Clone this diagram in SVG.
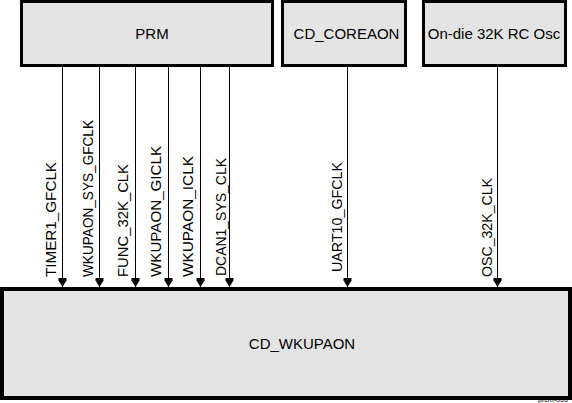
<svg xmlns="http://www.w3.org/2000/svg" width="572" height="403" viewBox="0 0 572 403">
<defs>
<style>
.box{fill:#e4e4e4;stroke:#000;stroke-width:3}
.big{stroke-width:4}
.t{font-family:"Liberation Sans",Arial,sans-serif;font-size:15px;fill:#000}
.lbl{font-family:"Liberation Sans",Arial,sans-serif;font-size:15px;fill:#000}
.ln{stroke:#000;stroke-width:1;fill:none;marker-end:url(#ah)}
.tag{font-family:"Liberation Sans",Arial,sans-serif;font-size:8px;fill:#000}
</style>
<marker id="ah" markerUnits="userSpaceOnUse" markerWidth="10" markerHeight="10" viewBox="0 0 10 10" refX="9" refY="5" orient="auto">
<path d="M0,1 L2.5,1 L9,5 L2.5,9 L0,9 Z" fill="#000"/>
</marker>
</defs>
<rect width="572" height="403" fill="#fff"/>
<g id="prm">
<rect class="box" x="21.5" y="1.5" width="251" height="64"/>
<text class="t" x="152" y="38.5" text-anchor="middle">PRM</text>
</g>
<g id="cd_coreaon">
<rect class="box" x="282.5" y="1.5" width="123" height="64"/>
<text class="t" x="346.5" y="38.5" text-anchor="middle">CD_COREAON</text>
</g>
<g id="osc">
<rect class="box" x="423.5" y="1.5" width="142" height="64"/>
<text class="t" x="494" y="38.5" text-anchor="middle">On-die 32K RC Osc</text>
</g>
<g id="cd_wkupaon">
<rect class="box big" x="2" y="289" width="568" height="109"/>
<line x1="0" y1="287.5" x2="292" y2="287.5" stroke="#000" stroke-width="1"/>
<text class="t" x="302" y="348.5" text-anchor="middle">CD_WKUPAON</text>
</g>
<g id="connectors">
<line class="ln" x1="62.5" y1="66" x2="62.5" y2="287"/>
<line class="ln" x1="99.5" y1="66" x2="99.5" y2="287"/>
<line class="ln" x1="135.5" y1="66" x2="135.5" y2="287"/>
<line class="ln" x1="168.5" y1="66" x2="168.5" y2="287"/>
<line class="ln" x1="200.5" y1="66" x2="200.5" y2="287"/>
<line class="ln" x1="229.5" y1="66" x2="229.5" y2="287"/>
<line class="ln" x1="347.5" y1="66" x2="347.5" y2="287"/>
<line class="ln" x1="497.5" y1="66" x2="497.5" y2="287"/>
<text class="lbl" transform="translate(55.5 277) rotate(-90)" textLength="115" lengthAdjust="spacingAndGlyphs">TIMER1_GFCLK</text>
<text class="lbl" transform="translate(93 277) rotate(-90)" textLength="157" lengthAdjust="spacingAndGlyphs">WKUPAON_SYS_GFCLK</text>
<text class="lbl" transform="translate(127.5 277) rotate(-90)" textLength="113" lengthAdjust="spacingAndGlyphs">FUNC_32K_CLK</text>
<text class="lbl" transform="translate(160.5 277) rotate(-90)" textLength="131" lengthAdjust="spacingAndGlyphs">WKUPAON_GICLK</text>
<text class="lbl" transform="translate(193 277) rotate(-90)" textLength="121" lengthAdjust="spacingAndGlyphs">WKUPAON_ICLK</text>
<text class="lbl" transform="translate(226 276) rotate(-90)" textLength="118" lengthAdjust="spacingAndGlyphs">DCAN1_SYS_CLK</text>
<text class="lbl" transform="translate(341.5 272) rotate(-90)" textLength="110" lengthAdjust="spacingAndGlyphs">UART10_GFCLK</text>
<text class="lbl" transform="translate(491.5 277) rotate(-90)" textLength="99" lengthAdjust="spacingAndGlyphs">OSC_32K_CLK</text>
</g>
<text class="tag" x="538" y="401.5" textLength="30" lengthAdjust="spacingAndGlyphs">prcm-055</text>
</svg>
